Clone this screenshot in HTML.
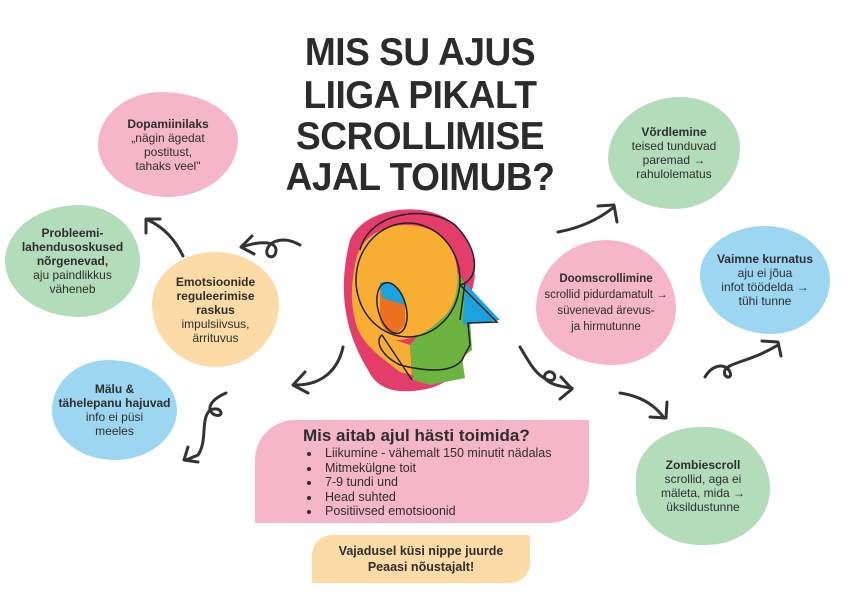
<!DOCTYPE html>
<html><head><meta charset="utf-8"><style>
*{margin:0;padding:0;box-sizing:border-box}
body{width:843px;height:596px;background:#fff;position:relative;overflow:hidden;font-family:"Liberation Sans",sans-serif;color:#2e2e2e}
.t{position:absolute;font-weight:900;font-size:39px;line-height:42px;letter-spacing:-0.5px;text-align:center;left:230px;width:380px;color:#2b2b2b;transform:scaleX(0.95)}
.b{position:absolute;display:flex;flex-direction:column;justify-content:center;align-items:center;text-align:center;font-size:12px;line-height:14px}
.b b{font-weight:bold}
svg{position:absolute;left:0;top:0}
</style></head><body>
<svg width="843" height="596">
<g fill="none" stroke="#333" stroke-width="3" stroke-linecap="round" stroke-linejoin="round">
<path d="M183 256 C175 240 165 228 148 220"/><path d="M146 233 L146 219 L160 219"/>
<path d="M300 245 C285 236 270 240 267 250 C265 258 276 260 276 250 C276 242 262 240 242 247"/><path d="M252 236 L241 247 L254 254"/>
<path d="M343 347 C338 370 322 385 296 385"/><path d="M305 372 L293 385 L308 393"/>
<path d="M226 393 C210 400 205 410 215 415 C225 418 222 405 210 410 C200 420 208 440 198 455 L186 460"/><path d="M188 447 L184 460 L198 462"/>
<path d="M558 232 C580 228 598 220 614 207"/><path d="M598 206 L614 205 L617 222"/>
<path d="M520 347 C528 360 535 375 548 380 C558 383 556 370 548 372 C540 376 545 385 572 388"/><path d="M561 377 L572 389 L560 399"/>
<path d="M620 393 C640 396 655 405 664 418"/><path d="M650 417 L666 418 L667 402"/>
<path d="M705 377 C712 365 725 362 730 372 C733 380 722 378 725 370 C730 362 750 362 778 345"/><path d="M762 341 L778 342 L781 356"/>
</g>
<path d="M350 240 C365 205 430 200 455 225 C470 240 480 265 472 290 L470 320 C470 345 465 385 420 390 C390 395 375 385 368 370 C350 340 335 300 350 240Z" fill="#e43d6b"/>
<path d="M455 270 L470 290 L480 318 L470 320 L472 350 L462 357 L465 378 L430 385 L413 380 L410 345 L440 310Z" fill="#6db33f"/>
<path d="M355 265 C360 225 410 215 440 235 C465 255 462 305 440 320 C425 335 410 340 395 340 L410 345 L412 375 L400 372 C385 360 360 345 355 320 C350 300 352 280 355 265Z" fill="#f8ae33"/>
<path d="M465 283 L500 320 L463 325 Z" fill="#1aa3de"/>
<path d="M380 283 C390 280 402 290 405 305 L405 325 C395 338 385 335 380 320 Z" fill="#ee7122"/>
<path d="M380 283 C392 278 403 290 405 305 L382 298 Z" fill="#1aa3de"/>
<g fill="none" stroke="#222" stroke-width="1.5">
<ellipse cx="408" cy="280" rx="52" ry="57"/>
<ellipse cx="392" cy="308" rx="14" ry="26" transform="rotate(-15 392 308)"/>
<path d="M360 250 C370 210 430 205 455 225 C480 250 480 280 460 285 L470 295 L497 322 L468 323 L470 345 L462 360 C450 375 420 370 400 365 C380 355 375 340 382 335 L412 380"/>
<path d="M465 282 L460 320"/>
</g>
</svg>
<div class="t" style="top:32px">MIS SU AJUS</div>
<div class="t" style="top:75px">LIIGA PIKALT</div>
<div class="t" style="top:116px">SCROLLIMISE</div>
<div class="t" style="top:157px">AJAL TOIMUB?</div>

<div class="b" style="left:98px;top:92px;width:140px;height:105px;background:#f5b6c9;border-radius:45% 55% 50% 50%/50% 45% 55% 50%"><b>Dopamiinilaks</b>„nägin ägedat<br>postitust,<br>tahaks veel"</div>
<div class="b" style="left:5px;top:205px;width:135px;height:112px;background:#b3dcbb;border-radius:55% 45% 45% 55%/50% 50% 50% 50%"><b>Probleemi-<br>lahendusoskused<br>nõrgenevad,</b>aju paindlikkus<br>väheneb</div>
<div class="b" style="left:152px;top:252px;width:127px;height:115px;background:#fcdba6;border-radius:50% 50% 50% 50%/45% 45% 55% 55%"><b>Emotsioonide<br>reguleerimise<br>raskus</b>impulsiivsus,<br>ärrituvus</div>
<div class="b" style="left:52px;top:360px;width:125px;height:100px;background:#9dd6f1;border-radius:45% 55% 50% 50%/50% 50% 50% 50%"><b>Mälu &amp;<br>tähelepanu hajuvad</b>info ei püsi<br>meeles</div>
<div class="b" style="left:608px;top:97px;width:132px;height:112px;background:#b3dcbb;border-radius:55% 45% 50% 50%/55% 45% 55% 45%"><b>Võrdlemine</b>teised tunduvad<br>paremad →<br>rahulolematus</div>
<div class="b" style="left:700px;top:226px;width:130px;height:108px;background:#9dd6f1;border-radius:50% 50% 45% 55%/45% 50% 50% 55%"><b>Vaimne kurnatus</b>aju ei jõua<br>infot töödelda →<br>tühi tunne</div>
<div class="b" style="left:536px;top:240px;width:140px;height:125px;background:#f5b6c9;border-radius:50% 50% 45% 55%/55% 55% 45% 45%;line-height:16px;font-size:11.5px"><b>Doomscrollimine</b>scrollid pidurdamatult →<br>süvenevad ärevus-<br>ja hirmutunne</div>
<div class="b" style="left:636px;top:427px;width:134px;height:118px;background:#b3dcbb;border-radius:50% 50% 50% 50%/45% 55% 50% 50%"><b>Zombiescroll</b>scrollid, aga ei<br>mäleta, mida →<br>üksildustunne</div>

<div style="position:absolute;left:255px;top:420px;width:334px;height:103px;background:#f5b6c9;border-radius:40px 0 40px 0;padding:6px 0 0 48px">
<div style="font-weight:900;font-size:17px;line-height:20px">Mis aitab ajul hästi toimida?</div>
<ul style="font-size:12.5px;line-height:14.5px;padding-left:18px;margin-left:0">
<li style="padding-left:4px">Liikumine - vähemalt 150 minutit nädalas</li>
<li style="padding-left:4px">Mitmekülgne toit</li>
<li style="padding-left:4px">7-9 tundi und</li>
<li style="padding-left:4px">Head suhted</li>
<li style="padding-left:4px">Positiivsed emotsioonid</li></ul></div>
<div style="position:absolute;left:312px;top:535px;width:218px;height:48px;background:#fcdba6;border-radius:20px 0 20px 0;text-align:center;font-weight:900;font-size:12.5px;line-height:16px;padding-top:8px">Vajadusel küsi nippe juurde<br>Peaasi nõustajalt!</div>
</body></html>
